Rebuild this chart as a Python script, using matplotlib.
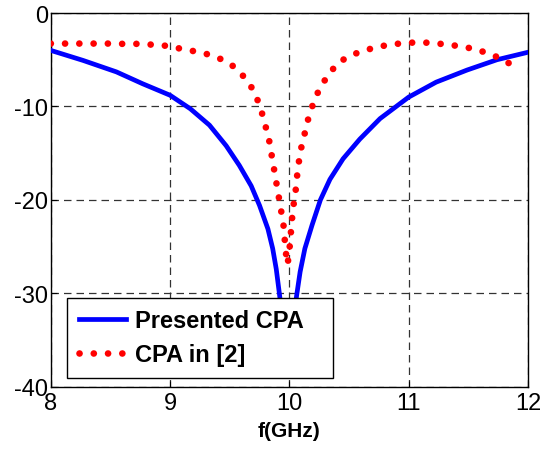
import matplotlib.pyplot as plt

plt.rcParams['font.family'] = ['Liberation Sans', 'DejaVu Sans']

# Presented CPA (solid blue)
f_cpa = [8.0, 8.27, 8.55, 8.77, 9.0, 9.17, 9.33, 9.47, 9.58, 9.68, 9.75, 9.82, 9.86,
         9.89, 9.915, 9.95, 9.99, 10.03, 10.06, 10.09, 10.13, 10.19, 10.26, 10.34,
         10.45, 10.59, 10.76, 11.0, 11.23, 11.49, 11.74, 12.0]
s_cpa = [-4.0, -5.07, -6.3, -7.57, -8.8, -10.25, -12.0, -14.2, -16.3, -18.5, -20.6,
         -23.1, -25.2, -27.4, -29.9, -33.5, -35.5, -33.5, -30.3, -27.7, -25.2, -22.7,
         -20.0, -17.8, -15.6, -13.5, -11.3, -9.0, -7.4, -6.1, -5.0, -4.2]

# CPA in [2] (red dotted)
f_ref = [8.0, 8.12, 8.245, 8.36, 8.48, 8.6, 8.72, 8.84, 8.96, 9.07, 9.19, 9.31, 9.42,
         9.52, 9.61, 9.68, 9.73, 9.77, 9.8, 9.83, 9.85, 9.87, 9.89, 9.91, 9.93, 9.95,
         9.96, 9.97, 9.985, 10.0, 10.01, 10.02, 10.03, 10.05, 10.06, 10.075, 10.09,
         10.12, 10.145, 10.18, 10.22, 10.27, 10.34, 10.41, 10.52, 10.63, 10.75, 10.86,
         10.98, 11.1, 11.22, 11.33, 11.45, 11.57, 11.68, 11.79, 11.89]
s_ref = [-3.27, -3.27, -3.27, -3.27, -3.27, -3.3, -3.3, -3.38, -3.5, -3.77, -4.06, -4.4,
         -4.9, -5.6, -6.7, -7.9, -9.2, -10.7, -12.1, -13.6, -15.1, -16.6, -18.1, -19.6,
         -21.1, -22.6, -24.1, -25.6, -26.9, -25.4, -23.9, -22.4, -20.9, -19.4, -17.9,
         -16.4, -14.9, -13.4, -11.9, -10.4, -9.0, -7.7, -6.4, -5.3, -4.5, -4.0, -3.6,
         -3.35, -3.2, -3.13, -3.24, -3.38, -3.6, -3.9, -4.4, -4.95, -5.8]

xticks = [8, 9, 10, 11, 12]
yticks = [0, -10, -20, -30, -40]
ytick_labels = ['0', '-10', '-20', '-30', '-40']

fig = plt.figure(figsize=(5.46, 4.52), dpi=100)
ax = fig.add_axes([0.093, 0.142, 0.874, 0.827])

ax.plot(f_cpa, s_cpa, color='#0000ff', lw=3.4, label='Presented CPA', zorder=3)
ax.plot(f_ref, s_ref, color='#ff0000', lw=4.8, dashes=(0.01, 2.13),
        dash_capstyle='round', label='CPA in [2]', zorder=3)

ax.set_xlim(8, 12)
ax.set_ylim(-40, 0)
ax.set_xticks(xticks)
ax.set_yticks(yticks)
ax.set_yticklabels(ytick_labels)
ax.tick_params(direction='in', labelsize=17, length=4)
ax.tick_params(axis='x', pad=4)
ax.tick_params(axis='y', pad=2)
ax.grid(True, color='#333333', ls=(0, (6, 4)), lw=0.9)
for s in ax.spines.values():
    s.set_linewidth(1.0)

ax.set_xlabel('f(GHz)', fontsize=15, fontweight='bold', labelpad=5)

# legend box stretched to the reference width (MATLAB style padding on the right)
leg = ax.legend(loc='lower left', bbox_to_anchor=(0.034, 0.024, 0.558, 0.2),
                mode='expand', borderaxespad=0,
                fancybox=False, edgecolor='black', framealpha=1,
                prop={'size': 17, 'weight': 'bold'}, handlelength=2.0,
                handletextpad=0.4, borderpad=0.5, labelspacing=0.45)
leg.get_frame().set_linewidth(1.0)
leg.set_zorder(5)

fig.savefig('out.png', dpi=100)
